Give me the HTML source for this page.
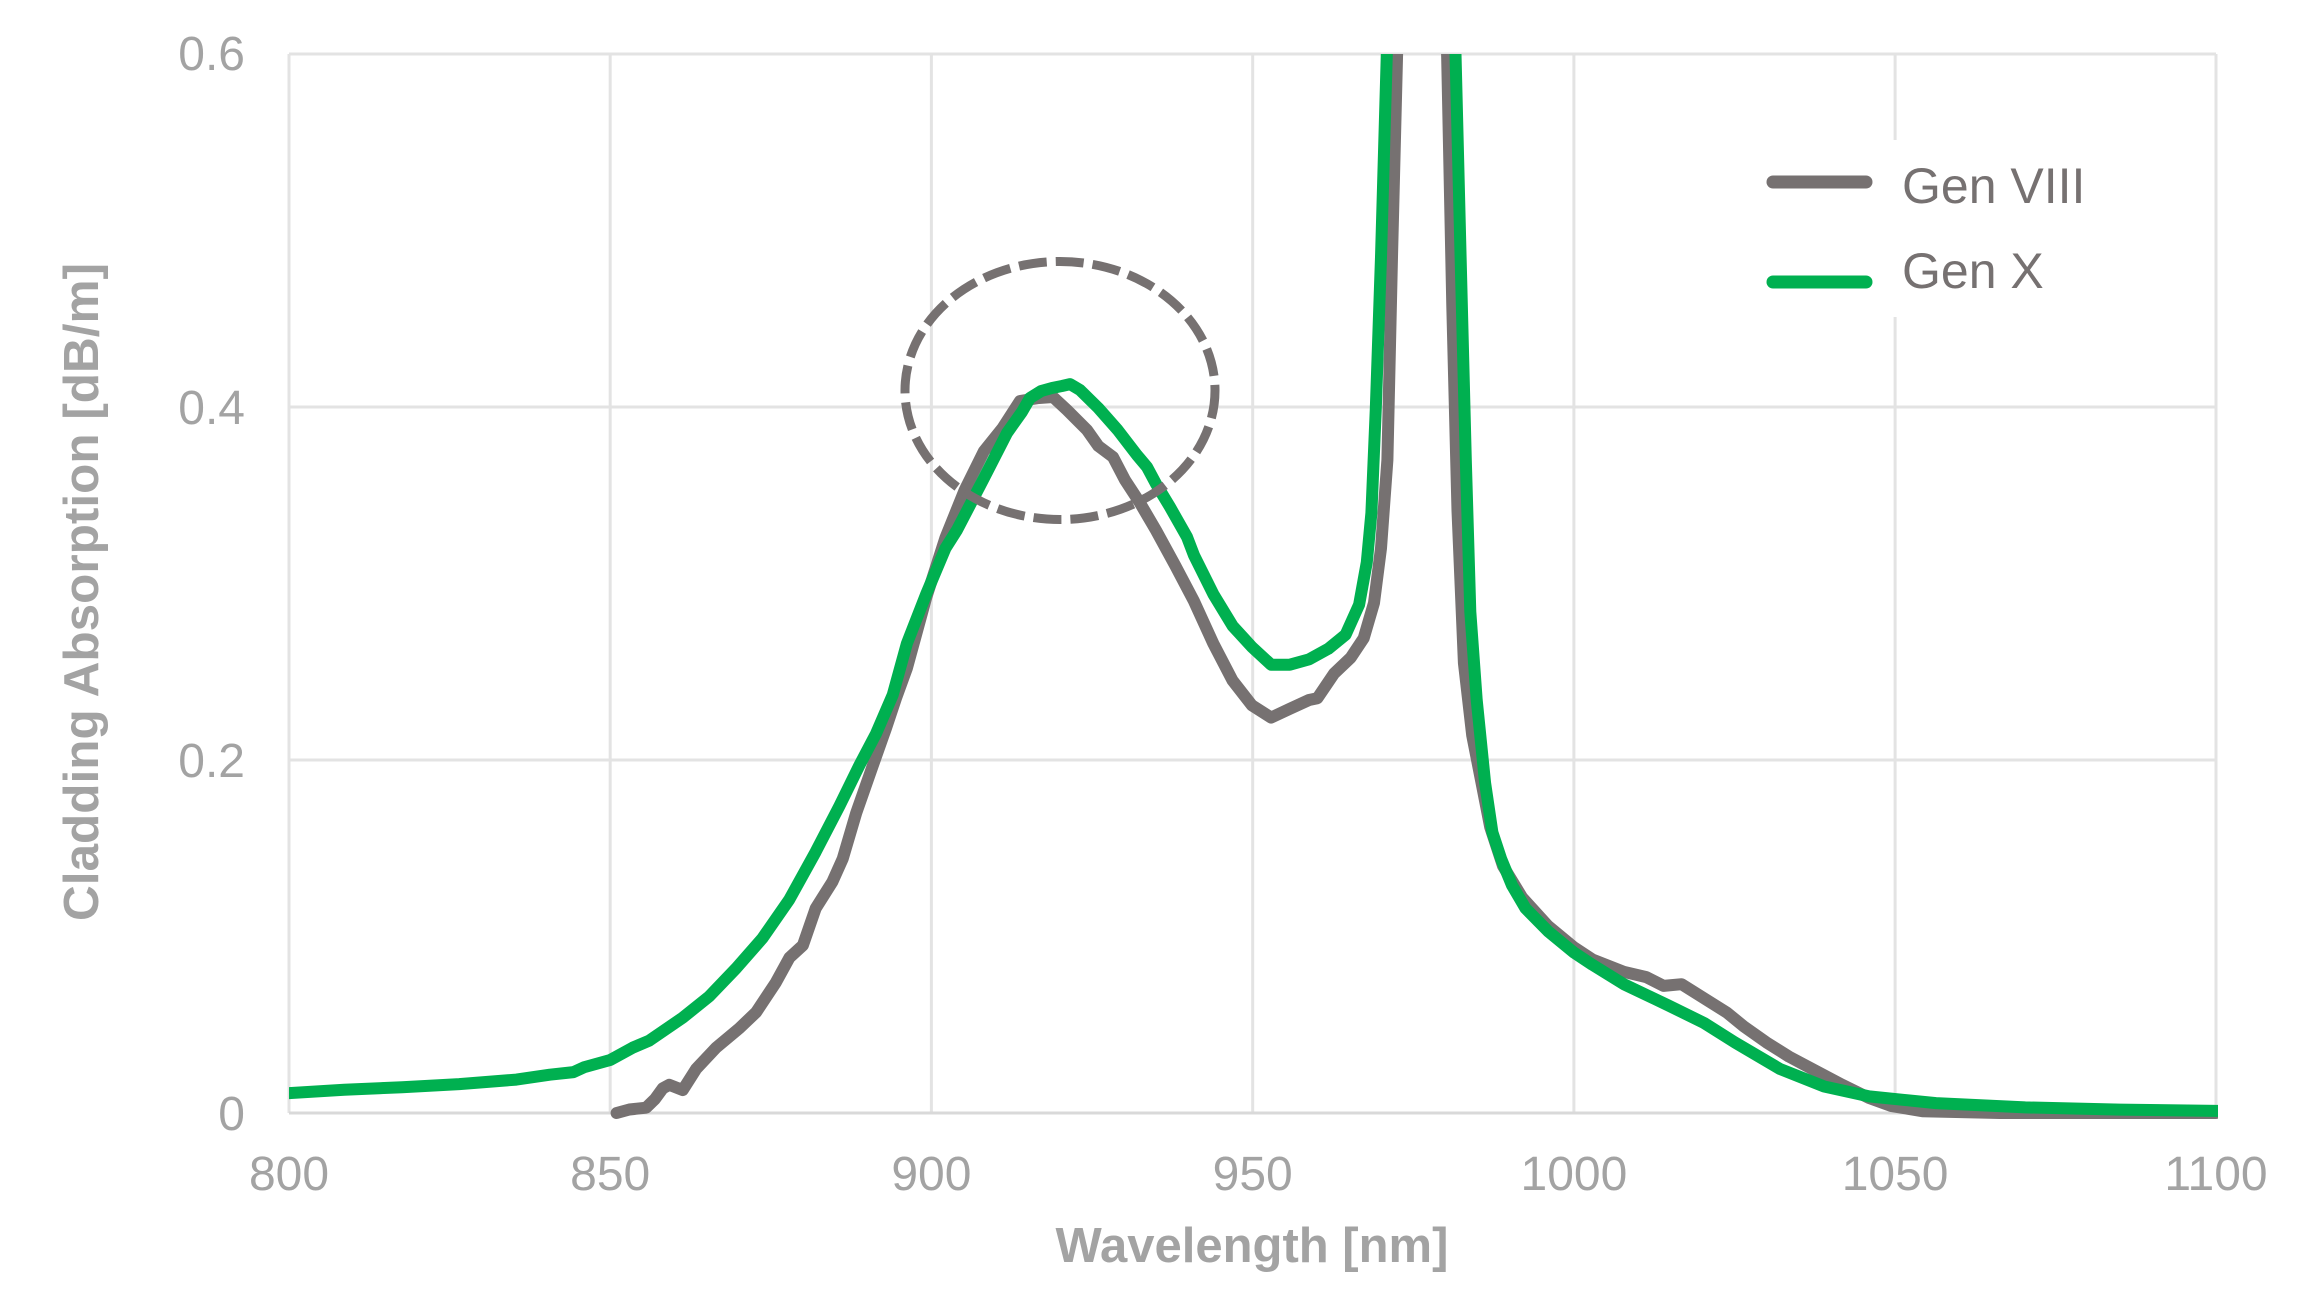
<!DOCTYPE html>
<html>
<head>
<meta charset="utf-8">
<style>
  html, body { margin: 0; padding: 0; background: #ffffff; }
  svg { display: block; }
  text { font-family: "Liberation Sans", Arial, sans-serif; }
</style>
</head>
<body>
<svg width="2302" height="1302" viewBox="0 0 2302 1302" xmlns="http://www.w3.org/2000/svg">
  <rect x="0" y="0" width="2302" height="1302" fill="#ffffff"/>
  <defs>
    <clipPath id="plot">
      <rect x="289" y="54" width="1929" height="1070"/>
    </clipPath>
  </defs>

  <!-- gridlines -->
  <g stroke="#e3e3e3" stroke-width="3" fill="none">
    <line x1="289" y1="54" x2="2216" y2="54"/>
    <line x1="289" y1="407" x2="2216" y2="407"/>
    <line x1="289" y1="760" x2="2216" y2="760"/>
    <line x1="289" y1="54" x2="289" y2="1113"/>
    <line x1="610.2" y1="54" x2="610.2" y2="1113"/>
    <line x1="931.4" y1="54" x2="931.4" y2="1113"/>
    <line x1="1252.7" y1="54" x2="1252.7" y2="1113"/>
    <line x1="1573.9" y1="54" x2="1573.9" y2="1113"/>
    <line x1="1895.1" y1="54" x2="1895.1" y2="1113"/>
    <line x1="2216" y1="54" x2="2216" y2="1113"/>
  </g>
  <line x1="289" y1="1113" x2="2216" y2="1113" stroke="#d9d9d9" stroke-width="3"/>

  <!-- legend background -->
  <rect x="1760" y="140" width="380" height="177" fill="#ffffff"/>

  <g clip-path="url(#plot)" fill="none" stroke-linejoin="round" stroke-linecap="round" stroke-width="12">
    <!-- Gen VIII -->
    <polyline stroke="#767171" points="
      616.6,1113 629.4,1109.5 646.1,1107.7 655.1,1098.9 662.8,1088.3 669.3,1084.8 682.7,1090.1
      696.2,1068.9 716.1,1047.7 739.3,1028.3 756.0,1012.4 775.9,982.4 789.4,957.7 802.9,945.3
      815.7,908.3 832.4,881.8 842.7,858.8 856.2,813 872.9,765.3 885.7,729.1 896.0,698.2
      906.9,668.2 926.2,597.6 945.5,537.6 964.7,490 984.0,451.1 1002.6,428 1020,401
      1037.3,398.2 1053,397 1067,410 1087,430 1098.3,446 1113,457 1125,480 1140,503
      1156.1,530.5 1175.4,565.9 1194.0,601.2 1213.3,643.5 1232.6,680.6 1251.9,705.3 1271.1,717.6
      1289.8,708.8 1309.0,700 1317.4,698.2 1334.1,673.5 1350.8,657.6 1363.7,638.2 1374.0,602.9
      1381.0,548.2 1387.4,459.9 1392.0,257 1397.1,54 1400.2,30
      1443.9,30 1447.1,54 1452.3,306.4 1457.5,511.1 1463.9,662.9 1472.2,735.3 1480.5,777.6
      1490.2,827.1 1503.0,866 1522.3,897.7 1548.0,925.9 1573.7,947.1 1592.3,959.4 1623.8,971.8
      1646.3,977.1 1663.6,985.9 1681.6,984.2 1704.1,998.3 1726.6,1012.4 1743.9,1026.5 1766.4,1042.4
      1788.8,1056.5 1815.2,1070.6 1842.2,1084.8 1869.1,1098 1890.9,1105.9 1922.4,1111.2 2000,1113 2216,1113"/>
    <!-- Gen X -->
    <polyline stroke="#00b050" points="
      283,1093.5 289.0,1093.1 344.2,1089.7 402.1,1087.2 459.2,1084.1 516.4,1079.6 549.8,1074.7 573.6,1072.1
      584.5,1067.1 610.2,1060 632.6,1047.7 649.3,1040.6 682.7,1017.7 709.1,996.5 736.1,968.3
      762.4,938.3 789.4,899.4 815.7,851.8 839.5,805.9 859.4,765.3 876.1,733.5 892.8,694.7
      906.9,643.5 926.2,594.1 945.5,548.2 957,530 970,505 984.0,478 1007,433 1021.9,412
      1030,398 1041.2,391 1052,388 1062,386 1070.1,384.1 1080,390 1098.3,408 1117.6,429.9 1136.9,455
      1147,467 1156.1,484 1170,507 1187,537 1194.0,555.3 1213.3,594.1 1232.6,625.9 1251.9,647.0 1271.1,664.7
      1289.8,664.7 1309.0,659.4 1328.3,648.8 1345.6,634.7 1359.1,604.7 1366.8,562.3 1371.4,512.9
      1375.8,408.8 1381.0,257 1386.8,54 1390.7,30
      1453.5,30 1455.5,54 1460.6,257 1465.8,459.9 1470.3,611.7 1476.7,700 1485.1,783 1492.4,832.4
      1501.1,858.8 1512.0,885.3 1525.5,908.3 1548.0,931.2 1573.7,952.4 1592.3,964.7 1623.8,984.2
      1668.1,1005.3 1704.1,1023 1734.9,1042.4 1779.9,1068.9 1824.2,1086.5 1869.1,1096.4 1935.9,1103.1
      2025.2,1107.4 2119.6,1109.6 2216,1110.9 2230,1111"/>
  </g>

  <!-- dashed ellipse -->
  <ellipse cx="1060" cy="390.5" rx="155" ry="129" fill="none" stroke="#767171" stroke-width="9" stroke-dasharray="28 9"/>

  <!-- legend -->
  <line x1="1773" y1="182" x2="1866" y2="182" stroke="#767171" stroke-width="13" stroke-linecap="round"/>
  <line x1="1773" y1="282" x2="1866" y2="282" stroke="#00b050" stroke-width="13" stroke-linecap="round"/>
  <text x="1902" y="203" font-size="50" fill="#767171">Gen VIII</text>
  <text x="1902" y="288" font-size="50" fill="#767171">Gen X</text>

  <!-- y tick labels -->
  <g font-size="48" fill="#a3a3a3" text-anchor="end">
    <text x="245" y="70">0.6</text>
    <text x="245" y="424">0.4</text>
    <text x="245" y="777">0.2</text>
    <text x="245" y="1130">0</text>
  </g>

  <!-- x tick labels -->
  <g font-size="48" fill="#a3a3a3" text-anchor="middle">
    <text x="289" y="1190">800</text>
    <text x="610.2" y="1190">850</text>
    <text x="931.4" y="1190">900</text>
    <text x="1252.7" y="1190">950</text>
    <text x="1573.9" y="1190">1000</text>
    <text x="1895.1" y="1190">1050</text>
    <text x="2216" y="1190">1100</text>
  </g>

  <!-- axis titles -->
  <text x="1252" y="1262" font-size="49" font-weight="bold" fill="#a3a3a3" text-anchor="middle">Wavelength [nm]</text>
  <text transform="translate(98,592) rotate(-90)" font-size="49.5" font-weight="bold" fill="#a3a3a3" text-anchor="middle">Cladding Absorption [dB/m]</text>
</svg>
</body>
</html>
